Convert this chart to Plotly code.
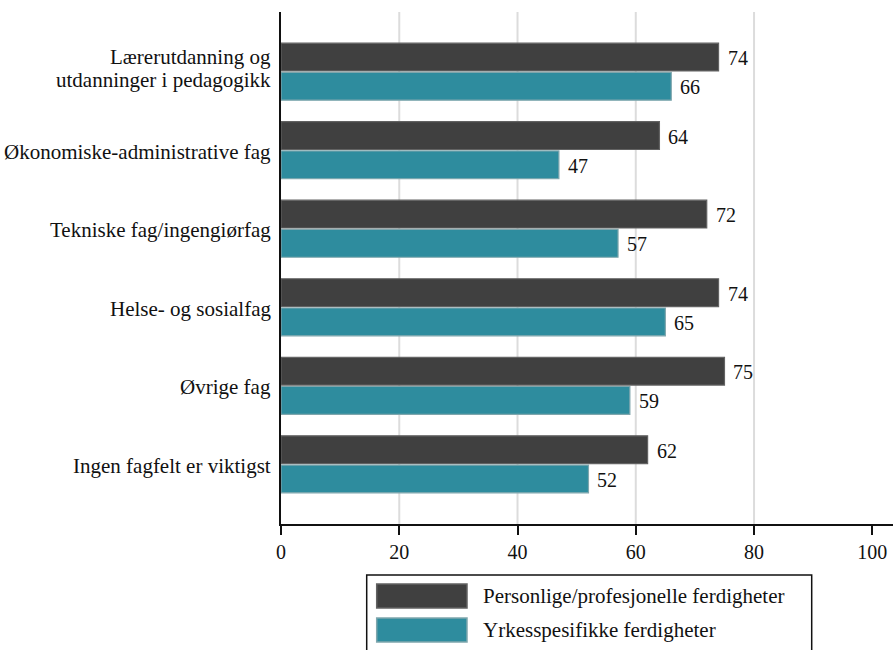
import plotly.graph_objects as go

# Survey categories (field of study) and percentages for the two skill types
categories = [
    "Lærerutdanning og<br>utdanninger i pedagogikk",
    "Økonomiske-administrative fag",
    "Tekniske fag/ingengiørfag",
    "Helse- og sosialfag",
    "Øvrige fag",
    "Ingen fagfelt er viktigst",
]
series_names = ["Personlige/profesjonelle ferdigheter", "Yrkesspesifikke ferdigheter"]
personal = [74, 64, 72, 74, 75, 62]
vocational = [66, 47, 57, 65, 59, 52]
x_ticks = [0, 20, 40, 60, 80, 100]

W, H = 893, 650
ML, MR, MT, MB = 281, 0, 12, 126
FONT = "Liberation Serif"
DARK, DARK_EDGE = "#404040", "#626262"
TEAL, TEAL_EDGE = "#2e8c9e", "#7fa6ad"

fig = go.Figure()
fig.add_trace(go.Bar(
    y=categories, x=personal, orientation="h", name=series_names[0],
    marker=dict(color=DARK, line=dict(color=DARK_EDGE, width=1.2)),
    showlegend=False, hoverinfo="x",
))
fig.add_trace(go.Bar(
    y=categories, x=vocational, orientation="h", name=series_names[1],
    marker=dict(color=TEAL, line=dict(color=TEAL_EDGE, width=1.2)),
    showlegend=False, hoverinfo="x",
))

# pixel helpers for the annotations / legend drawn around the plot area
plot_w = W - ML - MR
plot_h = H - MT - MB
def px_x(p):
    return (p - ML) / plot_w
def px_y(p):
    return (H - MB - p) / plot_h

ncat = len(categories)
y_lo, y_hi = -0.76, ncat - 1 + 0.76
cat_px = plot_h / (y_hi - y_lo)
bargap = 0.255
half_slot = cat_px * (1 - bargap) / 4  # centre offset of each bar in its group

annotations = []
# category labels to the left of the axis
for c in categories:
    parts = c.split("<br>")
    if len(parts) == 1:
        shifts = [-1.5]
    else:
        shifts = [15.0, -8.5]
    for part, ys in zip(parts, shifts):
        annotations.append(dict(
            x=0, xref="paper", y=c, yref="y", text=part, showarrow=False,
            xanchor="right", yanchor="middle", xshift=-8, yshift=ys,
            font=dict(family=FONT, size=21, color="#111"),
        ))
# value labels at the end of each bar
for vals, sgn in ((personal, 1), (vocational, -1)):
    for c, v in zip(categories, vals):
        annotations.append(dict(
            x=v, xref="x", y=c, yref="y", text=str(v), showarrow=False,
            xanchor="left", yanchor="middle", xshift=7, yshift=sgn * half_slot - 1,
            font=dict(family=FONT, size=20, color="#111"),
        ))

shapes = []
# vertical gridlines
for g in x_ticks[1:-1]:
    shapes.append(dict(type="line", xref="x", yref="paper", x0=g, x1=g, y0=0, y1=1,
                       line=dict(color="#dcdcdc", width=2), layer="below"))

# legend box with wide swatches
shapes.append(dict(type="rect", xref="paper", yref="paper",
                   x0=px_x(366.7), x1=px_x(811.7), y0=px_y(575), y1=px_y(665),
                   line=dict(color="#111", width=1.5), fillcolor="rgba(0,0,0,0)"))
leg_rows = [(584, 608, DARK, DARK_EDGE), (618, 642, TEAL, TEAL_EDGE)]
for (t, b, fc, lc), name in zip(leg_rows, series_names):
    shapes.append(dict(type="rect", xref="paper", yref="paper",
                       x0=px_x(376.7), x1=px_x(467), y0=px_y(b), y1=px_y(t),
                       line=dict(color=lc, width=1.5), fillcolor=fc))
    annotations.append(dict(
        x=px_x(481), xref="paper", y=px_y((t + b) / 2), yref="paper", text=name,
        showarrow=False, xanchor="left", yanchor="middle",
        font=dict(family=FONT, size=21, color="#111"),
    ))

fig.update_layout(
    width=W, height=H,
    margin=dict(l=ML, r=MR, t=MT, b=MB, pad=0),
    paper_bgcolor="white", plot_bgcolor="white",
    barmode="group", bargap=bargap, bargroupgap=0.05,
    font=dict(family=FONT, size=20, color="#111"),
    shapes=shapes, annotations=annotations,
    xaxis=dict(
        range=[0, (W - ML - MR) / 5.913], tickvals=x_ticks, showgrid=False,
        zeroline=False, showline=True, linecolor="#111", linewidth=1.5,
        ticks="outside", ticklen=9, tickwidth=1.5, tickcolor="#111",
        tickfont=dict(family=FONT, size=20, color="#111"),
    ),
    yaxis=dict(
        categoryorder="array", categoryarray=categories,
        range=[y_hi, y_lo], showticklabels=False, showgrid=False,
        zeroline=False, showline=True, linecolor="#111", linewidth=1.5, ticks="",
    ),
)

fig.write_html("out.html")
